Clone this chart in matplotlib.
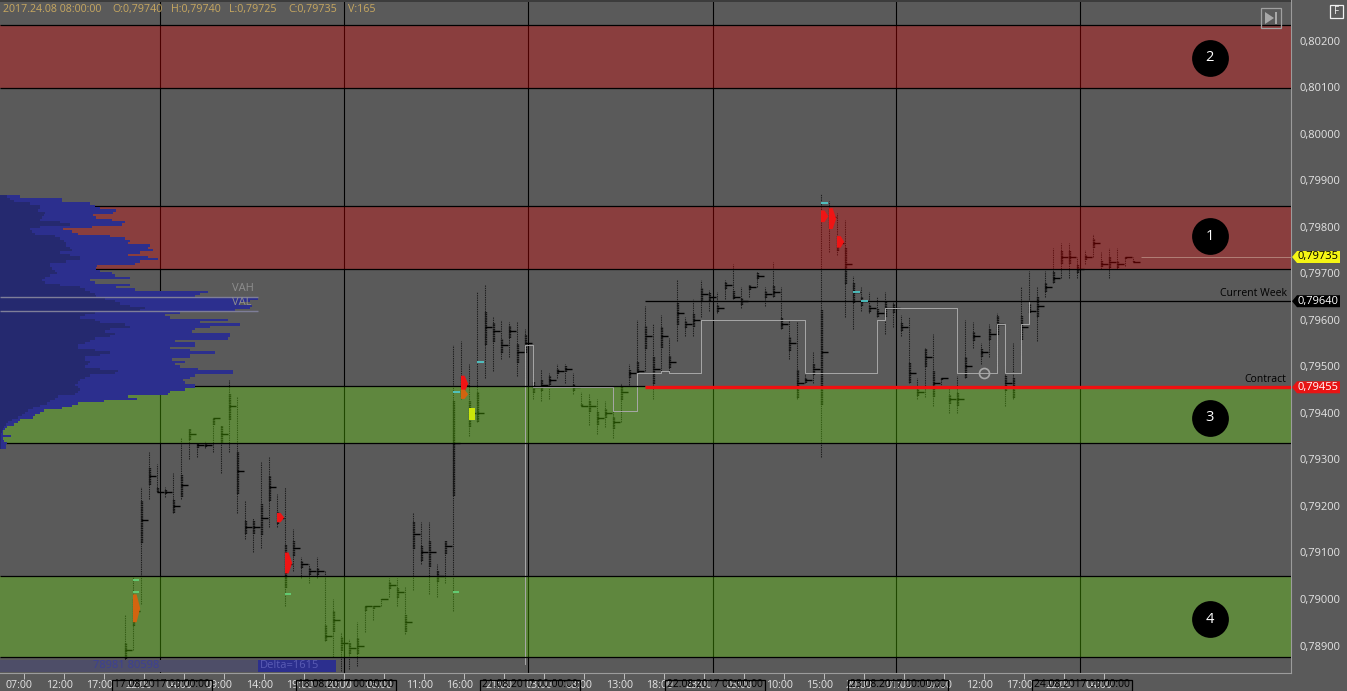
import numpy as np
import matplotlib
matplotlib.use('Agg')
import matplotlib.pyplot as plt
from matplotlib.patches import Polygon, Rectangle
from matplotlib.ticker import FixedLocator, FuncFormatter
from matplotlib.transforms import ScaledTranslation

plt.rcParams['font.family'] = ['Open Sans', 'DejaVu Sans']
plt.rcParams['lines.scale_dashes'] = False

# prices are in points of 0.00001
col_high = [78965,79050,79240,79315,79290,79240,79270,79345,79365,79335,79340,79390,79375,79470,79435,79210,79175,79295,79305,79225,
            79240,79150,79090,79075,79090,79060,79000,78930,78915,78950,78985,78985,79000,79045,79045,79025,79185,79165,79165,79075,
            79125,79545,79555,79505,79660,79675,79605,79600,79595,79595,79580,79495,79495,79485,79505,79505,79485,79445,79440,79430,
            79425,79420,79465,79505,79600,79630,79590,79610,79560,79685,79605,79645,79685,79665,79660,79685,79720,79670,79675,79705,
            79670,79725,79670,79600,79595,79490,79530,79870,79855,79830,79815,79695,79670,79660,79650,79660,79640,79610,79605,79475,
            79540,79570,79475,79455,79480,79600,79595,79550,79590,79615,79500,79550,79670,79705,79670,79705,79755,79765,79765,79735,
            79750,79785,79745,79755,79755,79735,79735]
col_low = [78870,78890,78990,79215,79230,79220,79185,79215,79300,79305,79325,79315,79270,79315,79185,79130,79100,79110,79155,79155,
           78985,79060,79045,79035,79045,78910,78875,78845,78850,78855,78930,78955,78985,79005,78985,78925,79020,79075,79010,79005,
           79035,78975,79430,79350,79380,79475,79490,79515,79520,79480,79475,79430,79425,79430,79475,79465,79440,79415,79375,79355,
           79370,79345,79380,79460,79485,79490,79430,79485,79490,79555,79565,79565,79605,79620,79615,79645,79645,79625,79650,79670,
           79630,79650,79580,79515,79430,79465,79465,79305,79745,79740,79605,79580,79620,79615,79605,79570,79585,79565,79465,79430,
           79435,79415,79455,79400,79400,79475,79540,79505,79520,79500,79415,79430,79525,79615,79555,79650,79680,79690,79690,79690,
           79720,79735,79710,79690,79710,79715,79725]
col_poc = [78890,78975,79170,79265,79230,79230,79200,79245,79355,79330,79330,79390,79355,79415,79275,79155,79155,79175,79240,79175,
           79075,79110,79075,79060,79060,78920,78955,78905,78895,78900,78985,78985,79000,79030,79015,78950,79140,79100,79100,79050,
           79115,79335,79460,79400,79400,79585,79575,79545,79575,79530,79550,79455,79460,79470,79490,79495,79455,79415,79415,79390,
           79400,79380,79445,79485,79490,79565,79495,79565,79510,79615,79590,79600,79655,79650,79625,79675,79650,79640,79670,79695,
           79655,79660,79590,79550,79465,79470,79495,79530,79820,79765,79720,79660,79640,79625,79615,79625,79625,79585,79485,79445,
           79520,79465,79475,79430,79430,79500,79565,79530,79570,79590,79465,79455,79585,79620,79630,79670,79690,79735,79735,79710,
           79735,79765,79720,79725,79720,79735,79725]

# volume profile, one row per 5 points from the top of the ladder
profile_prices = list(range(79865, 79320, -5))
profile_total = [20,62,62,90,95,100,116,113,93,96,112,125,122,92,63,72,78,110,125,130,
                 128,150,148,153,140,128,148,158,140,135,97,96,100,112,115,130,90,95,130,116,
                 135,208,200,195,258,250,240,252,250,235,180,165,170,228,200,240,210,195,192,230,
                 230,228,175,195,195,170,190,215,190,190,172,185,175,180,198,233,233,195,190,183,
                 185,195,195,185,170,168,128,137,104,78,72,62,44,40,35,33,20,18,14,7,
                 5,3,3,11,3,4,7,6,6]
profile_inner = [7,10,14,30,40,40,38,45,44,42,40,60,70,40,30,32,35,55,60,64,
                 66,66,70,72,60,70,80,80,66,50,50,52,55,57,50,45,42,45,60,80,
                 85,90,95,96,105,115,120,130,145,140,95,85,80,95,100,125,130,110,105,115,
                 110,95,90,85,78,78,95,110,100,85,85,90,88,85,100,118,115,90,85,80,
                 78,75,78,80,78,75,58,55,50,47,40,33,28,25,22,18,12,8,6,4,
                 3,2,1,1,1,1,1,1,1]

red_zones = [(80098, 80234), (79709, 79844)]
green_zones = [(79335, 79458), (78875, 79049)]
zone_badges = [('1', 79780), ('2', 80163), ('3', 79390), ('4', 78957)]
level_lines = [78875, 79049, 79335, 79709, 79844, 80098, 80234]

contract_price = 79455
week_price = 79640
last_price = 79735
vah_price, val_price = 79650, 79620

step_x = [50, 50, 51, 61, 64, 67, 68, 72, 85, 94, 95, 104, 109, 110, 112, 113, 127]
step_y = [78860, 79545, 79455, 79405, 79485, 79490, 79485, 79600, 79485, 79600, 79625, 79485, 79590, 79485, 79590, 79640, 79640]

# coloured clusters: column, low, high
red_clusters = [(19,79165,79185),(20,79055,79100),(42,79445,79480),(87,79810,79835),(88,79795,79840),(89,79755,79780)]
orange_clusters = [(1,78950,79010),(42,79430,79450)]
yellow_clusters = [(43,79385,79410)]
teal_marks = [(41,79445),(44,79510),(87,79850),(91,79660),(92,79640)]
mint_marks = [(1,79040),(1,79015),(20,79010),(41,79015)]

day_lines = [4.375, 27.375, 50.375, 73.5, 96.375, 119.375]
day_labels = ['17.08.2017 00:00:00','18.08.2017 00:00:00','21.08.2017 00:00:00',
              '22.08.2017 00:00:00','23.08.2017 00:00:00','24.08.2017 00:00:00']
hour_labels = ['07:00','12:00','17:00','22:00','04:00','09:00','14:00','19:00','00:00','06:00','11:00','16:00','21:00','03:00',
               '08:00','13:00','18:00','23:00','05:00','10:00','15:00','20:00','01:00','07:00','12:00','17:00','22:00','04:00']
hour_pos = [-12.6 + 5*k for k in range(len(hour_labels))]
price_ticks = list(range(78900, 80201, 100))

BG = '#5A5A5A'
W, H = 1347, 691
fig = plt.figure(figsize=(W/100, H/100), dpi=100, facecolor=BG)
ax = fig.add_axes([0, (H-673)/H, 1291/W, 673/H], facecolor=BG)
ax.set_xlim(-15.625, 145.75)
ax.set_ylim(78841, 80287.3)

for s in ('top', 'left'):
    ax.spines[s].set_visible(False)
for s in ('right', 'bottom'):
    ax.spines[s].set_color('#9C9C9C')
    ax.spines[s].set_linewidth(0.8)

ax.yaxis.tick_right()
ax.yaxis.set_major_locator(FixedLocator(price_ticks))
ax.yaxis.set_major_formatter(FuncFormatter(lambda v, _: f'{v/1e5:.5f}'.replace('.', ',')))
ax.tick_params(axis='y', length=0, pad=5.8, labelsize=8, labelcolor='#E4E4E4')
ax.set_xticks(hour_pos)
ax.set_xticklabels(hour_labels)
ax.tick_params(axis='x', length=4.5, width=0.7, color='#C0C0C0', pad=0.6, labelsize=7.7, labelcolor='#E4E4E4')
off = ScaledTranslation(-5/100, 0, fig.dpi_scale_trans)
for lab in ax.get_xticklabels():
    lab.set_transform(lab.get_transform() + off)

# day separators and TPO columns sit under the translucent zones
ax.vlines(day_lines, 78841, 80287.3, color='black', lw=0.8, zorder=2)
idx = np.arange(len(col_high))
high, low, poc = np.array(col_high), np.array(col_low), np.array(col_poc)
ax.vlines(idx, low, high, color='#1E1E1E', lw=0.75, linestyles=[(0, (1.0, 0.65))], zorder=2)
ax.vlines(idx + 0.16, np.maximum(low, poc - 0.2*(high-low)), np.minimum(high, poc + 0.16*(high-low)),
          color='#141414', lw=1.7, linestyles=[(0, (1.2, 0.45))], zorder=2)
ax.hlines(poc, idx, idx + 0.85, color='black', lw=1.0, zorder=2)

for lo, hi in red_zones:
    ax.axhspan(lo, hi, color='#FA0000', alpha=0.3, lw=0, zorder=3)
for lo, hi in green_zones:
    ax.axhspan(lo, hi, color='#6BF000', alpha=0.3, lw=0, zorder=3)
ax.hlines(level_lines, -15.625, 145.75, color='black', lw=0.9, zorder=4)
ax.hlines(79458, -15.625, 65, color='black', lw=0.9, zorder=4)
ax.hlines(week_price, 65, 145.75, color='black', lw=0.9, zorder=4)
ax.hlines(contract_price, 65, 145.75, color='#F01010', lw=2.4, zorder=5)
ax.hlines(last_price, 127, 145.75, color='#B88A80', lw=0.6, zorder=4)

ax.plot(step_x, step_y, drawstyle='steps-post', color='#A8A8A8', lw=0.7, zorder=3.5)

def cluster(c, lo, hi, color):
    mid = (lo + hi) / 2
    ax.fill([c, c + 0.45, c + 0.9, c + 0.45, c], [lo, lo, mid, hi, hi], color=color, lw=0, zorder=6)

for c, lo, hi in red_clusters:
    cluster(c, lo, hi, '#F01414')
for c, lo, hi in orange_clusters:
    cluster(c, lo, hi, '#D2640F')
for c, lo, hi in yellow_clusters:
    ax.bar(c + 0.35, hi - lo, 0.8, lo, color='#CCE60A', lw=0, zorder=6)
for c, p in teal_marks:
    ax.hlines(p, c, c + 0.85, color='#50C8C8', lw=1.3, zorder=6)
for c, p in mint_marks:
    ax.hlines(p, c, c + 0.7, color='#64D278', lw=1.3, zorder=6)

ax.plot([107.4], [79485], 'o', ms=7.2, mfc='none', mec='#A8A8A8', mew=1.2, zorder=6)

for t, p in zone_badges:
    ax.plot([135.6], [p], 'o', ms=26.5, color='black', mew=0, zorder=7)
    ax.text(135.6, p, t, color='white', fontsize=10.5, ha='center', va='center', zorder=8)

ax.text(145.2, week_price + 4, 'Current Week', color='black', fontsize=7.5, ha='right', va='bottom', zorder=8)
ax.text(145.2, contract_price + 5, 'Contract', color='black', fontsize=7.5, ha='right', va='bottom', zorder=8)

# volume profile on its own x scale (volume units)
vx = ax.twiny()
vx.set_xlim(0, 1291)
vx.axis('off')
vx.barh(profile_prices, profile_total, height=5, color='#2C2F8E', lw=0, zorder=1)
vx.barh(profile_prices, profile_inner, height=5, color='#25296F', lw=0, zorder=2)
vx.hlines([vah_price, val_price], 0, 258, color='#7E7E98', lw=1.0, zorder=3)
vx.text(232, vah_price + 6, 'VAH', color='#8E8E8E', fontsize=8, va='bottom', zorder=4)
vx.text(232, val_price + 6, 'VAL', color='#8E8E8E', fontsize=8, va='bottom', zorder=4)

# pixel-space overlay for chrome
ov = fig.add_axes([0, 0, 1, 1], facecolor='none')
ov.set_xlim(0, W)
ov.set_ylim(H, 0)
ov.axis('off')
fig.canvas.draw()
def py(p):
    return H - ax.transData.transform((0, p))[1]
def px(i):
    return ax.transData.transform((i, 78900))[0]

ov.add_patch(Rectangle((0, 0), 1291, 1.5, color='#3C3C3C', lw=0))
tan = '#C8A860'
for x, t in [(3, '2017.24.08 08:00:00'), (112, 'O:0,79740'), (171, 'H:0,79740'),
             (229, 'L:0,79725'), (288, 'C:0,79735'), (348, 'V:165')]:
    ov.text(x, 9.5, t, color=tan, fontsize=7.7, va='center', ha='left')

# bottom strip with the two volumes and the delta
ov.add_patch(Rectangle((0, 660), 258, 12, color='#4E4E68', lw=0))
ov.add_patch(Rectangle((258, 660), 78, 12, color='#2C2F8E', lw=0))
ov.text(93, 666, '78981 80598', color='#3C4094', fontsize=8, va='center', ha='left')
ov.text(260, 666, 'Delta=1615', color='#5A5CB4', fontsize=8, va='center', ha='left')

# date boxes on the time axis
for d, t in zip(day_lines, day_labels):
    c = px(d)
    ov.add_patch(Rectangle((c - 48.5, 680), 100, 11, fill=False, ec='black', lw=0.9))
    ov.text(c + 1.5, 684.8, t, color='black', fontsize=7.4, ha='center', va='center')

# price badges
for p, fc, tc in [(last_price, '#F5F514', 'black'), (week_price, '#000000', 'white'), (contract_price, '#E81414', 'white')]:
    y = py(p)
    ov.add_patch(Polygon([(1292, y), (1297, y-6), (1340, y-6), (1340, y+6), (1297, y+6)], closed=True, fc=fc, ec='none', zorder=3))
    ov.text(1318.5, y, f'{p/1e5:.5f}'.replace('.', ','), color=tc, fontsize=8, ha='center', va='center', zorder=4)

# toolbar button and F box
ov.add_patch(Rectangle((1261, 8), 19.5, 20, fill=False, ec='#A0A0A0', lw=0.9))
ov.add_patch(Polygon([(1265, 12), (1265, 24), (1274, 18)], closed=True, fc='#A8A8A8', ec='none'))
ov.add_patch(Rectangle((1274.5, 12), 2.2, 12, color='#A8A8A8', lw=0))
ov.add_patch(Rectangle((1330, 5), 13, 12.5, fill=False, ec='#F0F0F0', lw=0.9))
ov.text(1336.5, 11.2, 'F', color='#F0F0F0', fontsize=7, ha='center', va='center')

fig.savefig('out.png', dpi=100, facecolor=BG)
